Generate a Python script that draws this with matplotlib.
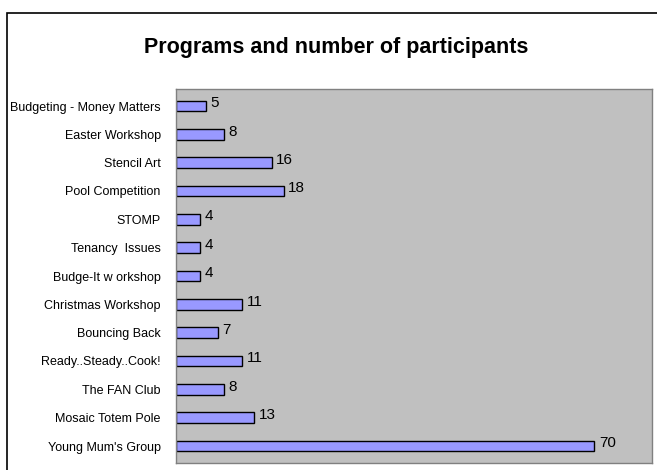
import matplotlib
matplotlib.use('Agg')
import matplotlib.pyplot as plt
from matplotlib.patches import Rectangle
from matplotlib import font_manager

programs = ['Budgeting - Money Matters', 'Easter Workshop', 'Stencil Art',
            'Pool Competition', 'STOMP', 'Tenancy  Issues', 'Budge-It w orkshop',
            'Christmas Workshop', 'Bouncing Back', 'Ready..Steady..Cook!',
            'The FAN Club', 'Mosaic Totem Pole', "Young Mum's Group"]
participants = [5, 8, 16, 18, 4, 4, 4, 11, 7, 11, 8, 13, 70]

names = {f.name for f in font_manager.fontManager.ttflist}
narrow = 'Liberation Sans Narrow' in names
print('narrow available:', narrow)
plt.rcParams['font.family'] = ['Liberation Sans', 'DejaVu Sans']
lab_family = ['Liberation Sans Narrow', 'Liberation Sans'] if narrow else ['Liberation Sans']

fig = plt.figure(figsize=(6.57, 4.70), dpi=100)
fig.patch.set_facecolor('white')

# outer chart frame
fig.patches.append(Rectangle((7 / 657, -0.05), 1.0, 1 - 13 / 470 + 0.05,
                             transform=fig.transFigure, fill=False,
                             edgecolor='black', linewidth=1.2))

ax = fig.add_axes([176 / 657, 1 - 463 / 470, (652 - 176) / 657, (463 - 89) / 470])
ax.set_facecolor('#C0C0C0')

ypos = list(range(len(programs)))
ax.barh(ypos, participants, height=0.37, color='#9999FF',
        edgecolor='black', linewidth=1.0)

for y, v in zip(ypos, participants):
    ax.text(v + 0.8, y - 0.1, str(v), va='center', ha='left', fontsize=11,
            family=lab_family)

ax.set_xlim(0, 79.7)
ax.set_ylim(len(programs) - 0.4, -0.6)
ax.set_yticks(ypos)
ax.set_yticklabels(programs, fontsize=10.5 if narrow else 9, family=lab_family)
ax.tick_params(axis='y', length=0, pad=11)
ax.set_xticks([])
for s in ax.spines.values():
    s.set_color('#808080')
    s.set_linewidth(1.0)

fig.text(336 / 657, 1 - 47 / 470, 'Programs and number of participants',
         ha='center', va='center', fontsize=15.5, fontweight='bold',
         family=lab_family if narrow else ['Liberation Sans'])

fig.savefig('out.png', dpi=100)
